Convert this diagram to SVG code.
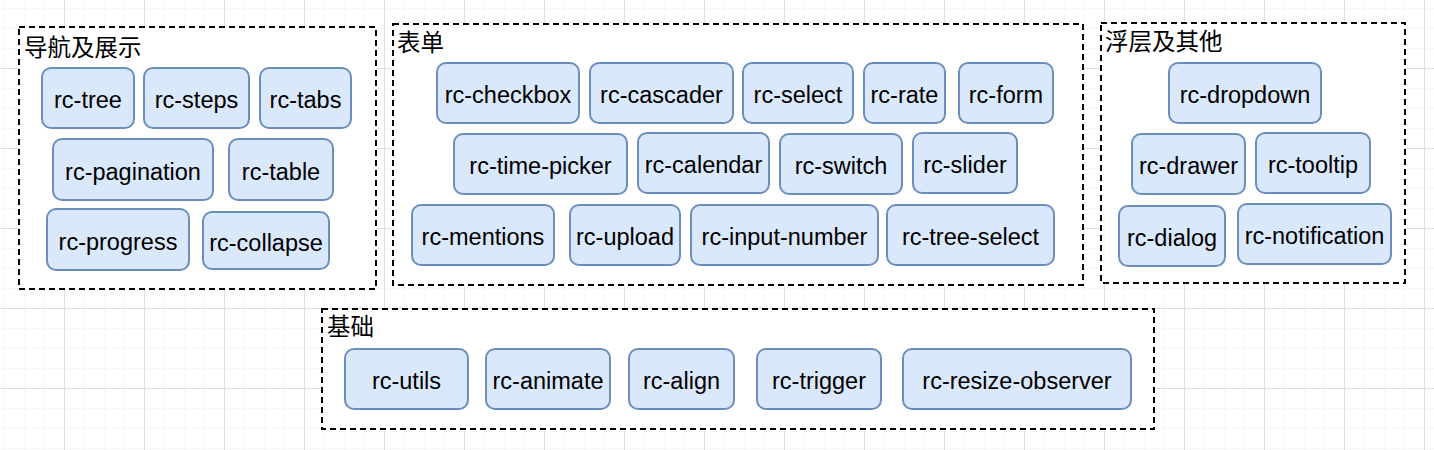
<svg xmlns="http://www.w3.org/2000/svg" width="1434" height="450" viewBox="0 0 1434 450">
<style>
.grp{fill:#ffffff;stroke:#000000;stroke-width:2;stroke-dasharray:6 4}
.node rect{fill:#dae8fc;stroke:#6c8ebf;stroke-width:2}
.node text{font-family:"Liberation Sans",Arial,sans-serif;font-size:23.5px;fill:#000000;text-anchor:middle}
.title{font-family:"Noto Sans CJK SC","Noto Sans",sans-serif;font-size:23.5px;fill:#000000}
</style>
<defs>
<pattern id="minor" patternUnits="userSpaceOnUse" x="4" y="8" width="20" height="20">
<path d="M0 0V20M0 0H20" fill="none" stroke="#f2f2f2" stroke-width="1"/>
</pattern>
<pattern id="major" patternUnits="userSpaceOnUse" x="64" y="68" width="80" height="80">
<path d="M0.5 0V80M0 0.5H80" fill="none" stroke="#e0e0e0" stroke-width="1"/>
</pattern>
</defs>
<rect width="1434" height="450" fill="#ffffff"/>
<rect width="1434" height="450" fill="url(#minor)"/>
<rect width="1434" height="450" fill="url(#major)"/>

<g id="group-nav">
<rect class="grp" x="19" y="27" width="357" height="262"/>
<text class="title" x="24" y="56">导航及展示</text>
</g>
<g id="group-form">
<rect class="grp" x="393" y="24" width="690" height="261"/>
<text class="title" x="397" y="51">表单</text>
</g>
<g id="group-overlay">
<rect class="grp" x="1101" y="23" width="304" height="260"/>
<text class="title" x="1105" y="50">浮层及其他</text>
</g>
<g id="group-base">
<rect class="grp" x="322" y="309" width="832" height="120"/>
<text class="title" x="327" y="335">基础</text>
</g>

<g id="rc-tree" class="node"><rect x="42" y="68" width="92" height="60" rx="9"/><text x="88" y="107.5">rc-tree</text></g>
<g id="rc-steps" class="node"><rect x="144" y="68" width="105" height="60" rx="9"/><text x="196.5" y="107.5">rc-steps</text></g>
<g id="rc-tabs" class="node"><rect x="260" y="68" width="91" height="60" rx="9"/><text x="305.5" y="107.5">rc-tabs</text></g>
<g id="rc-pagination" class="node"><rect x="53" y="139" width="160" height="61" rx="9"/><text x="133" y="179.5">rc-pagination</text></g>
<g id="rc-table" class="node"><rect x="229" y="139" width="104" height="61" rx="9"/><text x="281" y="179.5">rc-table</text></g>
<g id="rc-progress" class="node"><rect x="47" y="209" width="142" height="61" rx="9"/><text x="118" y="249.5">rc-progress</text></g>
<g id="rc-collapse" class="node"><rect x="203" y="212" width="126" height="57" rx="9"/><text x="266" y="250.5">rc-collapse</text></g>

<g id="rc-checkbox" class="node"><rect x="437" y="63" width="142" height="60" rx="9"/><text x="508" y="102.5">rc-checkbox</text></g>
<g id="rc-cascader" class="node"><rect x="590" y="63" width="143" height="60" rx="9"/><text x="661.5" y="102.5">rc-cascader</text></g>
<g id="rc-select" class="node"><rect x="743" y="63" width="110" height="60" rx="9"/><text x="798" y="102.5">rc-select</text></g>
<g id="rc-rate" class="node"><rect x="864" y="63" width="81" height="60" rx="9"/><text x="904.5" y="102.5">rc-rate</text></g>
<g id="rc-form" class="node"><rect x="959" y="63" width="94" height="60" rx="9"/><text x="1006" y="102.5">rc-form</text></g>
<g id="rc-time-picker" class="node"><rect x="454" y="134" width="173" height="60" rx="9"/><text x="540.5" y="173.5">rc-time-picker</text></g>
<g id="rc-calendar" class="node"><rect x="638" y="133" width="131" height="60" rx="9"/><text x="703.5" y="172.5">rc-calendar</text></g>
<g id="rc-switch" class="node"><rect x="780" y="134" width="122" height="60" rx="9"/><text x="841" y="173.5">rc-switch</text></g>
<g id="rc-slider" class="node"><rect x="913" y="133" width="104" height="60" rx="9"/><text x="965" y="172.5">rc-slider</text></g>
<g id="rc-mentions" class="node"><rect x="412" y="205" width="142" height="60" rx="9"/><text x="483" y="244.5">rc-mentions</text></g>
<g id="rc-upload" class="node"><rect x="570" y="205" width="110" height="60" rx="9"/><text x="625" y="244.5">rc-upload</text></g>
<g id="rc-input-number" class="node"><rect x="691" y="205" width="187" height="60" rx="9"/><text x="784.5" y="244.5">rc-input-number</text></g>
<g id="rc-tree-select" class="node"><rect x="887" y="205" width="167" height="60" rx="9"/><text x="970.5" y="244.5">rc-tree-select</text></g>

<g id="rc-dropdown" class="node"><rect x="1169" y="63" width="152" height="60" rx="9"/><text x="1245" y="102.5">rc-dropdown</text></g>
<g id="rc-drawer" class="node"><rect x="1132" y="134" width="113" height="60" rx="9"/><text x="1188.5" y="173.5">rc-drawer</text></g>
<g id="rc-tooltip" class="node"><rect x="1256" y="133" width="114" height="60" rx="9"/><text x="1313" y="172.5">rc-tooltip</text></g>
<g id="rc-dialog" class="node"><rect x="1119" y="206" width="106" height="60" rx="9"/><text x="1172" y="245.5">rc-dialog</text></g>
<g id="rc-notification" class="node"><rect x="1238" y="204" width="153" height="60" rx="9"/><text x="1314.5" y="243.5">rc-notification</text></g>

<g id="rc-utils" class="node"><rect x="345" y="349" width="123" height="60" rx="9"/><text x="406.5" y="388.5">rc-utils</text></g>
<g id="rc-animate" class="node"><rect x="486" y="349" width="124" height="60" rx="9"/><text x="548" y="388.5">rc-animate</text></g>
<g id="rc-align" class="node"><rect x="629" y="349" width="105" height="60" rx="9"/><text x="681.5" y="388.5">rc-align</text></g>
<g id="rc-trigger" class="node"><rect x="757" y="349" width="124" height="60" rx="9"/><text x="819" y="388.5">rc-trigger</text></g>
<g id="rc-resize-observer" class="node"><rect x="903" y="349" width="228" height="60" rx="9"/><text x="1017" y="388.5">rc-resize-observer</text></g>

<g id="connectors"></g>
</svg>
